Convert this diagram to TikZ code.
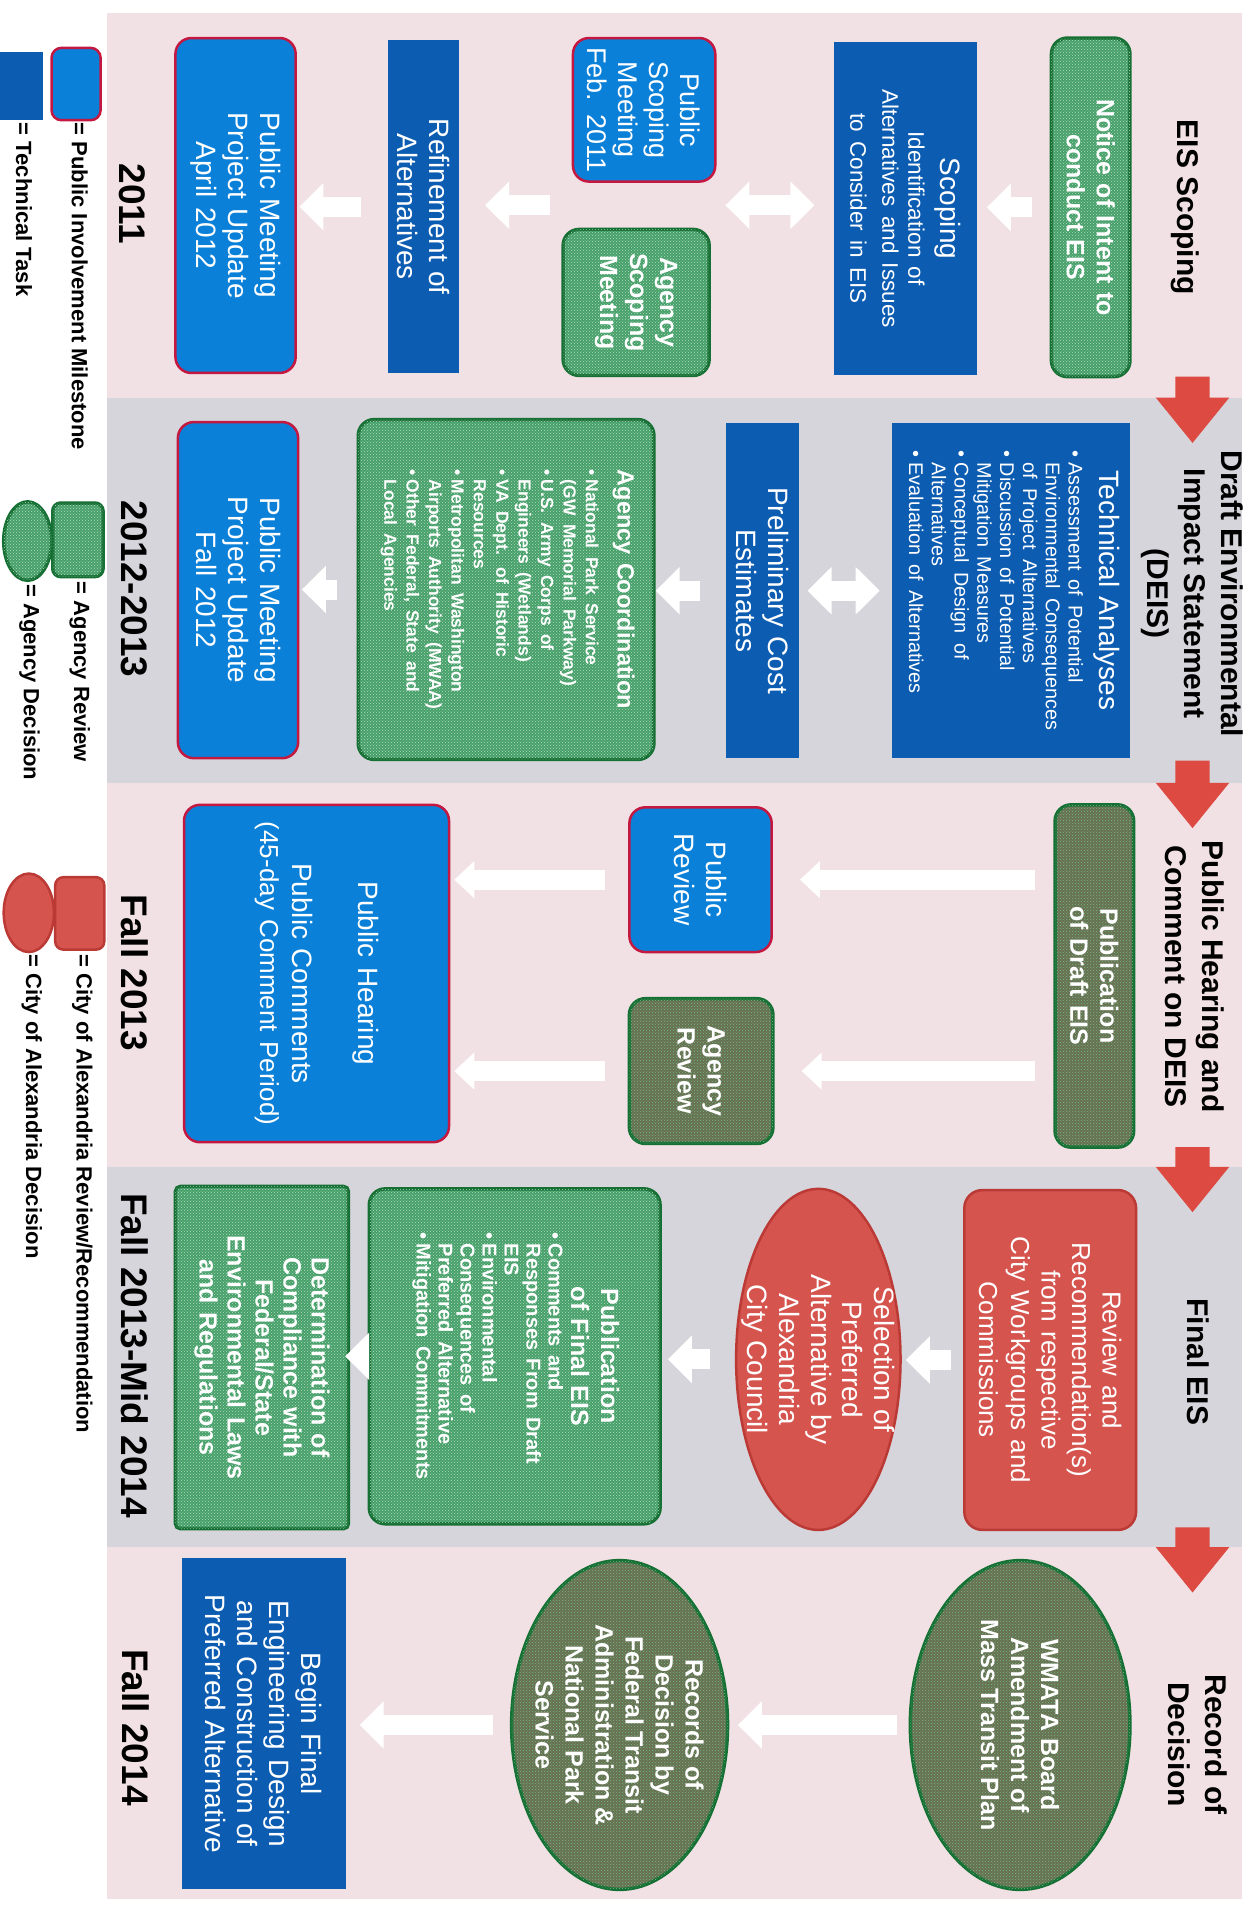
\documentclass[tikz,border=0pt]{standalone}
\usepackage{fontspec}
\setmainfont{Liberation Sans}
\usetikzlibrary{shapes.geometric,arrows.meta,patterns,calc}
\definecolor{pinkbg}{RGB}{241,225,228}
\definecolor{graybg}{RGB}{213,213,219}
\definecolor{techblue}{RGB}{12,92,178}
\definecolor{pubblue}{RGB}{10,128,216}
\definecolor{pubedge}{RGB}{196,24,64}
\definecolor{agreen}{RGB}{70,160,105}
\definecolor{agedge}{RGB}{22,112,52}
\definecolor{olive}{RGB}{104,112,80}
\definecolor{cityred}{RGB}{214,84,78}
\definecolor{cityedge}{RGB}{188,58,54}
\definecolor{arrowred}{RGB}{220,74,66}
\newcommand\K{1.2269}
\newcommand\fHead{\fontsize{30}{37}\selectfont\bfseries}
\newcommand\fYear{\fontsize{37}{44}\selectfont\bfseries}
\newcommand\fBig{\fontsize{28}{32}\selectfont}
\newcommand\fMed{\fontsize{22.5}{26}\selectfont}
\newcommand\fSmall{\fontsize{19.8}{22.8}\selectfont}
\newcommand\fAg{\fontsize{25}{30}\selectfont\bfseries}
\newcommand\fAgT{\fontsize{23.5}{28}\selectfont\bfseries}
\newcommand\fAgL{\fontsize{17.5}{22.4}\selectfont\bfseries}
\newcommand\fPf{\fontsize{20}{22}\selectfont\bfseries}
\newcommand\fDet{\fontsize{25}{28}\selectfont\bfseries}
\newcommand\fLeg{\fontsize{22}{26}\selectfont\bfseries}
\newcommand\placebox[7]{%
  \pgfmathsetmacro\pbW{\K*(#4-#3)}%
  \pgfmathsetmacro\pbH{\K*(#6-#5)}%
  \pgfmathsetmacro\pbT{\K*(#4-#3)-8}%
  \pgfmathsetmacro\pbX{(#3+#4)/2}%
  \pgfmathsetmacro\pbY{(#5+#6)/2}%
  \node[#1, minimum width=\pbW pt, minimum height=\pbH pt, text width=\pbT pt] (#2) at (\pbX,\pbY) {#7};}
\newcommand\placeell[6]{%
  \pgfmathsetmacro\pbW{\K*(#4-#3)}%
  \pgfmathsetmacro\pbH{\K*(#6-#5)}%
  \pgfmathsetmacro\pbX{(#3+#4)/2}%
  \pgfmathsetmacro\pbY{(#5+#6)/2}%
  \node[#1, minimum width=\pbW pt, minimum height=\pbH pt] (#2) at (\pbX,\pbY) {};}
\newcommand\redarr[2]{\fill[arrowred] (#1,958) -- (#2,958) -- (#2,942) -- ({#2+37},972) -- (#2,1002) -- (#2,986) -- (#1,986) -- cycle;}
\tikzset{
  box/.style={rectangle, inner sep=0pt, align=center, text=white, font=\fBig},
  techbox/.style={box, fill=techblue},
  pubbox/.style={box, fill=pubblue, draw=pubedge, line width=2.5pt, rounded corners=16pt},
  agencybox/.style={box, fill=agreen, draw=agedge, line width=3.5pt, rounded corners=16pt, font=\fAg,
    postaction={pattern=crosshatch dots, pattern color=white!60!agreen}},
  agencyrect/.style={agencybox, rounded corners=5pt, font=\fDet},
  olivebox/.style={box, fill=olive, draw=agedge, line width=3.5pt, rounded corners=16pt, font=\fAg,
    postaction={pattern=crosshatch dots, pattern color=agreen!75!white}},
  citybox/.style={box, fill=cityred, draw=cityedge, line width=2.5pt, rounded corners=18pt},
  ellbase/.style={ellipse, inner sep=0pt},
  oliveell/.style={ellbase, fill=olive, draw=agedge, line width=3.5pt,
    postaction={pattern=crosshatch dots, pattern color=agreen!75!white}},
  agell/.style={ellbase, fill=agreen, draw=agedge, line width=3.5pt,
    postaction={pattern=crosshatch dots, pattern color=white!60!agreen}},
  cityell/.style={ellbase, fill=cityred, draw=cityedge, line width=2.5pt},
  elltext/.style={align=center, text=white, inner sep=0pt},
  hdr/.style={align=center, font=\fHead, inner sep=0pt},
  yr/.style={font=\fYear, inner sep=0pt},
  legtext/.style={anchor=west, font=\fLeg, inner sep=0pt},
  warrow/.style={draw=white, line width=20pt, line cap=butt, -{Triangle[width=46pt,length=24pt]}},
  wthin/.style={draw=white, line width=20pt, line cap=butt, -{Triangle[width=36pt,length=20pt]}},
  wdouble/.style={draw=white, line width=20pt, line cap=butt, {Triangle[width=46pt,length=24pt]}-{Triangle[width=46pt,length=24pt]}}
}
\begin{document}
\begin{tikzpicture}
\begin{scope}[rotate=-90, transform shape, x=1.2269pt, y=1.2269pt]
\path[use as bounding box, fill=white] (0,0) rectangle (1567.4,1018);
% bands
\fill[pinkbg] (11,87) rectangle (324,1012);
\fill[graybg] (324,87) rectangle (638,1012);
\fill[pinkbg] (638,87) rectangle (951,1012);
\fill[graybg] (951,87) rectangle (1261,1012);
\fill[pinkbg] (1261,87) rectangle (1548,1012);
% red phase arrows
\redarr{307}{324}
\redarr{620}{638}
\redarr{935}{951}
\redarr{1245}{1261}
% headers
\node[hdr] (h1) at (169,966) {EIS Scoping};
\node[hdr] (h2) at (484,972) {Draft Environmental\\Impact Statement\\(DEIS)};
\node[hdr] (h3) at (796,974) {Public Hearing and\\Comment on DEIS};
\node[hdr] (h4) at (1110,977) {Final EIS};
\node[hdr] (h5) at (1422,976) {Record of\\Decision};
% years
\node[yr] (y1) at (166,108) {2011};
\node[yr] (y2) at (480,109) {2012-2013};
\node[yr] (y3) at (793,110) {Fall 2013};
\node[yr] (y4) at (1105,110) {Fall 2013-Mid 2014};
\node[yr] (y5) at (1408,111) {Fall 2014};
% band 1
\placebox{agencybox}{notice}{31}{307}{857}{921}{Notice of Intent to\\conduct EIS}
\placebox{techbox}{scoping}{34}{306}{680}{796}{Scoping\\[6pt]\fMed Identification of\\Alternatives and Issues\\to Consider in EIS}
\placebox{pubbox, font=\fontsize{27}{31}\selectfont}{pubscope}{31}{148}{467}{583}{Public\\Scoping\\Meeting\\Feb. 2011}
\placebox{agencybox}{agencyscope}{187}{306}{459}{578}{Agency\\Scoping\\Meeting}
\placebox{techbox}{refine}{33}{304}{316}{374}{Refinement of\\Alternatives}
\placebox{pubbox}{pubmtg1}{31}{304}{143}{241}{Public Meeting\\Project Update\\April 2012}
% band 2
\placebox{techbox}{technical}{345}{618}{727}{921}{Technical Analyses\\[8pt]{\fSmall\begin{tabular}{@{}l@{\hspace{5pt}}l@{}}
\textbullet & Assessment of Potential\\
 & Environmental Consequences\\
 & of Project Alternatives\\
\textbullet & Discussion of Potential\\
 & Mitigation Measures\\
\textbullet & Conceptual Design of\\
 & Alternatives\\
\textbullet & Evaluation of Alternatives
\end{tabular}}}
\placebox{techbox}{prelim}{345}{618}{592}{651}{Preliminary Cost\\Estimates}
\placebox{agencybox}{agencycoord}{342}{619}{292}{533}{\fAgT Agency Coordination\\[10pt]{\fAgL\begin{tabular}{@{}l@{\hspace{4pt}}l@{}}
\textbullet & National Park Service\\
 & (GW Memorial Parkway)\\
\textbullet & U.S. Army Corps of\\
 & Engineers (Wetlands)\\
\textbullet & VA Dept. of Historic\\
 & Resources\\
\textbullet & Metropolitan Washington\\
 & Airports Authority (MWAA)\\
\textbullet & Other Federal, State and\\
 & Local Agencies
\end{tabular}}}
\placebox{pubbox}{pubmtg2}{344}{618}{145}{243}{Public Meeting\\Project Update\\Fall 2012}
% band 3
\placebox{olivebox}{pubdraft}{656}{935}{860}{924}{Publication\\of Draft EIS}
\placebox{pubbox}{pubreview}{658}{776}{513}{629}{Public\\Review}
\placebox{olivebox}{agreview}{814}{932}{513}{630}{Agency\\Review}
\placebox{pubbox}{pubhearing}{656}{931}{150}{366}{Public Hearing\\[34pt]Public Comments\\{\fontsize{26}{30}\selectfont(45-day Comment Period)}}
% band 4
\placebox{citybox}{reviewrec}{970}{1247}{786}{926}{\fontsize{26}{30.5}\selectfont Review and\\Recommendation(s)\\from respective\\City Workgroups and\\Commissions}
\placeell{cityell}{selection}{969}{1247}{600}{734}
\node[elltext, font=\fontsize{28}{31.7}\selectfont] (selection-t) at (selection) {Selection of\\Preferred\\Alternative by\\Alexandria\\City Council};
\placebox{agencybox}{pubfinal}{969}{1242}{301}{538}{Publication\\of Final EIS\\[6pt]{\fPf\begin{tabular}{@{}l@{\hspace{4pt}}l@{}}
\textbullet & Comments and\\
 & Responses From Draft\\
 & EIS\\
\textbullet & Environmental\\
 & Consequences of\\
 & Preferred Alternative\\
\textbullet & Mitigation Commitments
\end{tabular}}}
\placebox{agencyrect}{determ}{967}{1246}{143}{284}{Determination of\\Compliance with\\Federal/State\\Environmental Laws\\and Regulations}
% band 5
\placeell{oliveell}{wmata}{1272}{1540}{742}{921}
\node[elltext, font=\fAg] (wmata-t) at (wmata) {WMATA Board\\Amendment of\\Mass Transit Plan};
\placeell{oliveell}{records}{1272}{1540}{417}{593}
\node[elltext, font=\fAg] (records-t) at (records) {Records of\\Decision by\\Federal Transit\\Administration \&\\National Park\\Service};
\placebox{techbox}{beginfinal}{1270}{1540}{148}{282}{Begin Final\\Engineering Design\\and Construction of\\Preferred Alternative}
% legend
\placebox{pubbox, rounded corners=10pt}{legpub}{39}{98}{42}{82}{}
\placebox{techbox}{legtech}{42}{98}{0}{35}{}
\placebox{agencybox, rounded corners=8pt}{legag}{410}{470}{43}{84}{}
\placeell{agell}{legagd}{409}{473}{3}{42}
\placebox{citybox, rounded corners=8pt}{legcity}{715}{774}{45}{85}{}
\placeell{cityell}{legcityd}{712}{776}{3}{44}
\node[legtext] (lt1) at (100,65) {= Public Involvement Milestone};
\node[legtext] (lt2) at (100,19.5) {= Technical Task};
\node[legtext] (lt3) at (474,65) {= Agency Review};
\node[legtext] (lt4) at (476,24) {= Agency Decision};
\node[legtext] (lt5) at (778,67) {= City of Alexandria Review/Recommendation};
\node[legtext] (lt6) at (778,26) {= City of Alexandria Decision};
% white flow arrows
\coordinate (gap1) at ($(pubscope.north east)!0.5!(agencyscope.north west)$);
\coordinate (gap2) at ($(pubscope.south east)!0.5!(agencyscope.south west)$);
\draw[warrow, shorten <=18pt, shorten >=10pt] (notice.south) -- (notice.south |- scoping.north);
\draw[wdouble, shorten <=19.6pt, shorten >=11.7pt] (gap1 |- scoping.south) -- (gap1);
\draw[warrow, shorten <=17pt, shorten >=26pt] (gap2) -- (gap2 |- refine.north);
\draw[warrow, shorten <=26pt, shorten >=2.5pt] (refine.south) -- (refine.south |- pubmtg1.north);
\draw[wdouble, shorten <=12pt, shorten >=8.6pt] (technical.south) -- (technical.south |- prelim.north);
\draw[warrow, shorten <=26pt] (prelim.south) -- (prelim.south |- agencycoord.north);
\draw[warrow, shorten <=20pt, shorten >=2.5pt] (agencycoord.south) -- (agencycoord.south |- pubmtg2.north);
\draw[wthin, shorten <=18pt, shorten >=27pt] (pubdraft.south -| pubreview) -- (pubreview.north);
\draw[wthin, shorten <=18pt, shorten >=27pt] (pubdraft.south -| agreview) -- (agreview.north);
\draw[wthin, shorten <=23pt, shorten >=4pt] (pubreview.south) -- (pubreview.south |- pubhearing.north);
\draw[wthin, shorten <=23pt, shorten >=4pt] (agreview.south) -- (agreview.south |- pubhearing.north);
\draw[warrow, shorten <=12pt, shorten >=4pt] (reviewrec.south) -- (reviewrec.south |- selection.north);
\draw[warrow, shorten <=24.5pt, shorten >=6pt] (selection.south) -- (selection.south |- pubfinal.north);
\draw[warrow, shorten <=-11pt, shorten >=-5pt] (pubfinal.south) -- (pubfinal.south |- determ.north);
\draw[warrow, shorten <=12pt, shorten >=8.6pt] (wmata.south) -- (records.north);
\draw[warrow, shorten <=17pt, shorten >=13.5pt] (records.south) -- (records.south |- beginfinal.north);
\end{scope}
\end{tikzpicture}
\end{document}
